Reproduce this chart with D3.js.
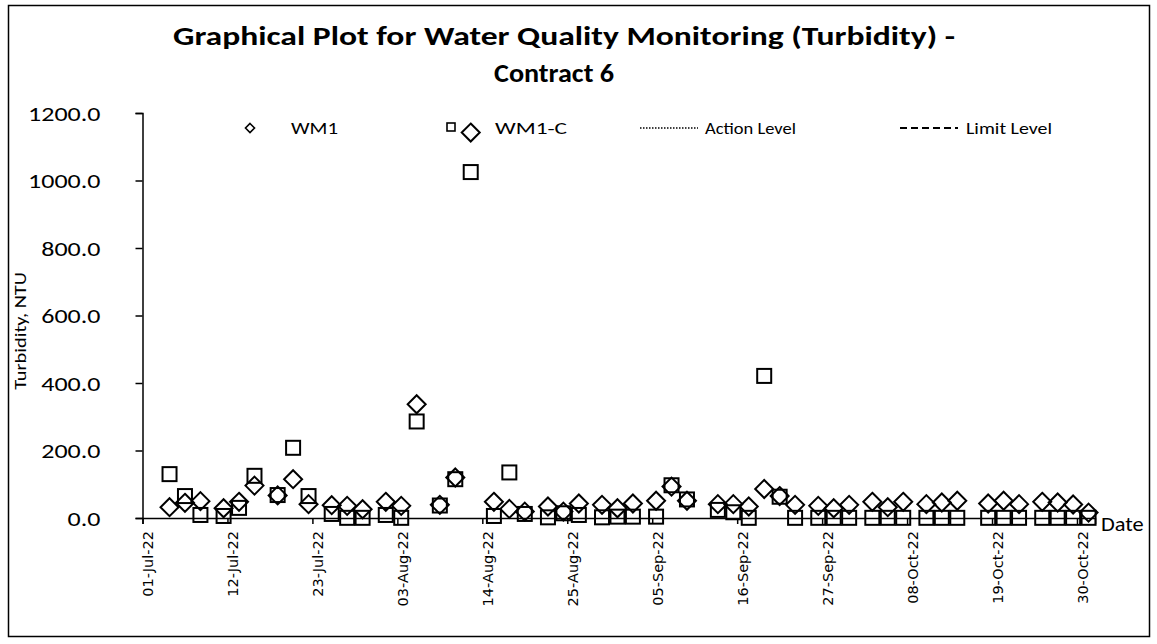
<!DOCTYPE html>
<meta charset="utf-8">
<style>
body { margin: 0; background: #fff; }
text { fill: #000; }
</style>
<script src="https://d3js.org/d3.v7.min.js"></script>

<div id="my_dataviz"></div>

<script>

// sampling dates (points sit in the middle of each day, like Excel's date axis)
var dates = ["2022-07-04","2022-07-06","2022-07-08","2022-07-11","2022-07-13","2022-07-15",
  "2022-07-18","2022-07-20","2022-07-22","2022-07-25","2022-07-27","2022-07-29",
  "2022-08-01","2022-08-03","2022-08-05","2022-08-08","2022-08-10","2022-08-12",
  "2022-08-15","2022-08-17","2022-08-19","2022-08-22","2022-08-24","2022-08-26",
  "2022-08-29","2022-08-31","2022-09-02","2022-09-05","2022-09-07","2022-09-09",
  "2022-09-13","2022-09-15","2022-09-17","2022-09-19","2022-09-21","2022-09-23",
  "2022-09-26","2022-09-28","2022-09-30","2022-10-03","2022-10-05","2022-10-07",
  "2022-10-10","2022-10-12","2022-10-14","2022-10-18","2022-10-20","2022-10-22",
  "2022-10-25","2022-10-27","2022-10-29","2022-10-31"]

// turbidity, NTU
var wm1 = [32,45,50,29,48,96, 67,115,41,38,36,26,
  48,36,337,39,120,1142, 48,27,19,34,19,43,
  39,29,43,51,93,51, 41,41,34,86,65,39,
  36,29,39,48,32,48, 41,46,51,43,51,41,
  48,46,40,16]
var wm1c = [130,65,9,6,30,125, 68,208,65,12,0.5,0.5,
  9,0.5,286,37,115,1025, 6,135,12,2,14,9,
  2,4,4,4,97,55, 24,17,0.5,421,63,0.5,
  0.5,0.5,0.5,0.5,0.5,0.5, 0.5,0.5,0.5,0.5,0.5,0.5,
  0.5,0.5,0.5,0.5]

var yTicks = [0,200,400,600,800,1000,1200]
var xTickDates = ["2022-07-01","2022-07-12","2022-07-23","2022-08-03","2022-08-14","2022-08-25",
  "2022-09-05","2022-09-16","2022-09-27","2022-10-08","2022-10-19","2022-10-30"]
var legendNames = ["WM1","WM1-C","Action Level","Limit Level"]

var W = 1157, H = 644
var parse = d3.timeParse("%Y-%m-%d")
var fmt = d3.timeFormat("%d-%b-%y")
var font = "Carlito, Calibri, Lato, sans-serif"

// the source picture is a bit wider than Calibri, so stretch text sideways
// around its own anchor point
function stretch(sel, k) {
  sel.each(function() {
    var ax = +d3.select(this).attr("x") || 0
    d3.select(this).attr("transform", "translate(" + (ax * (1 - k)) + ",0) scale(" + k + ",1)")
  })
}

var svg = d3.select("#my_dataviz")
  .append("svg")
    .attr("width", W)
    .attr("height", H)

// outer chart border
svg.append("rect")
  .attr("x", 8.5).attr("y", 5.5)
  .attr("width", 1141).attr("height", 631)
  .attr("fill", "white")
  .attr("stroke", "black")
  .attr("stroke-width", 1.5)

// title
svg.append("text")
  .attr("x", 173).attr("y", 45)
  .style("font-family", font)
  .style("font-weight", "bold")
  .style("font-size", "27px")
  .attr("textLength", 782).attr("lengthAdjust", "spacingAndGlyphs")
  .text("Graphical Plot for Water Quality Monitoring (Turbidity)  -")
svg.append("text")
  .attr("x", 494).attr("y", 82)
  .style("font-family", font)
  .style("font-weight", "bold")
  .style("font-size", "27px")
  .attr("textLength", 120).attr("lengthAdjust", "spacingAndGlyphs")
  .text("Contract 6")

// scales
var x = d3.scaleTime()
  .domain([parse("2022-07-01"), new Date(2022, 10, 1, 8)])
  .range([142.5, 1095])
var y = d3.scaleLinear()
  .domain([0, 1200])
  .range([518, 113])

// y axis
var yAxis = svg.append("g")
  .attr("transform", "translate(142.5,0)")
  .call(d3.axisLeft(y).tickValues(yTicks).tickFormat(d3.format(".1f")).tickSizeOuter(0).tickSize(7).tickPadding(35))
yAxis.select(".domain").attr("stroke-width", 1.5)
yAxis.selectAll(".tick line").attr("stroke-width", 1.5)
yAxis.selectAll("text")
  .style("font-family", font)
  .style("font-size", "20px")
  .attr("dy", "0.36em")
  .call(stretch, 1.3)

// x axis
var xAxis = svg.append("g")
  .attr("transform", "translate(0," + y(0) + ")")
  .call(d3.axisBottom(x).tickValues(xTickDates.map(parse)).tickFormat(fmt).tickSizeOuter(0).tickSize(6))
xAxis.select(".domain").attr("stroke-width", 1.5)
xAxis.selectAll(".tick line").attr("stroke-width", 1.5)
xAxis.selectAll("text")
  .style("font-family", "DejaVu Sans, sans-serif")
  .style("font-size", "14.5px")
  .attr("text-anchor", "end")
  .attr("transform", "rotate(-90)")
  .attr("x", -13)
  .attr("y", 5)
  .attr("dy", "0.35em")

// axis titles
svg.append("text")
  .attr("transform", "translate(26,331) rotate(-90) scale(1.2,1)")
  .attr("text-anchor", "middle")
  .style("font-family", font)
  .style("font-size", "17px")
  .text("Turbidity, NTU")
svg.append("text")
  .attr("x", 1101).attr("y", 531)
  .style("font-family", font)
  .style("font-size", "20px")
  .text("Date")
  .call(stretch, 1.12)

var rows = dates.map(function(d, i) {
  return { date: d3.timeHour.offset(parse(d), 12), wm1: wm1[i], wm1c: wm1c[i] }
})

// WM1-C squares
svg.append("g")
  .selectAll("rect")
  .data(rows)
  .enter()
  .append("rect")
    .attr("x", function(d) { return x(d.date) - 7 })
    .attr("y", function(d) { return y(d.wm1c) - 7 })
    .attr("width", 14)
    .attr("height", 14)
    .attr("fill", "none")
    .attr("stroke", "black")
    .attr("stroke-width", 2)

// WM1 diamonds
var diamond = function(r) { return "M0," + (-r) + "L" + r + ",0L0," + r + "L" + (-r) + ",0Z" }
svg.append("g")
  .selectAll("path")
  .data(rows)
  .enter()
  .append("path")
    .attr("transform", function(d) { return "translate(" + x(d.date) + "," + y(d.wm1) + ")" })
    .attr("d", diamond(9))
    .attr("fill", "none")
    .attr("stroke", "black")
    .attr("stroke-width", 2)

// legend
var legX = [291, 495, 705, 966]
var legW = [47, 72, 91, 86]
var leg = svg.append("g").style("font-family", font).style("font-size", "17px")
leg.append("path").attr("transform", "translate(250,128)").attr("d", diamond(4.5))
  .attr("fill", "none").attr("stroke", "black").attr("stroke-width", 1.6)
leg.append("rect").attr("x", 447).attr("y", 123).attr("width", 8).attr("height", 8)
  .attr("fill", "none").attr("stroke", "black").attr("stroke-width", 1.6)
leg.append("line").attr("x1", 640).attr("x2", 698).attr("y1", 128).attr("y2", 128)
  .attr("stroke", "black").attr("stroke-width", 1.5).attr("stroke-dasharray", "1.5,1.5")
leg.append("line").attr("x1", 900).attr("x2", 958).attr("y1", 128).attr("y2", 128)
  .attr("stroke", "black").attr("stroke-width", 2).attr("stroke-dasharray", "7,4")
leg.selectAll("text")
  .data(legendNames)
  .enter()
  .append("text")
    .attr("x", function(d, i) { return legX[i] })
    .attr("y", 134)
    .attr("textLength", function(d, i) { return legW[i] })
    .attr("lengthAdjust", "spacingAndGlyphs")
    .text(function(d) { return d })

</script>
